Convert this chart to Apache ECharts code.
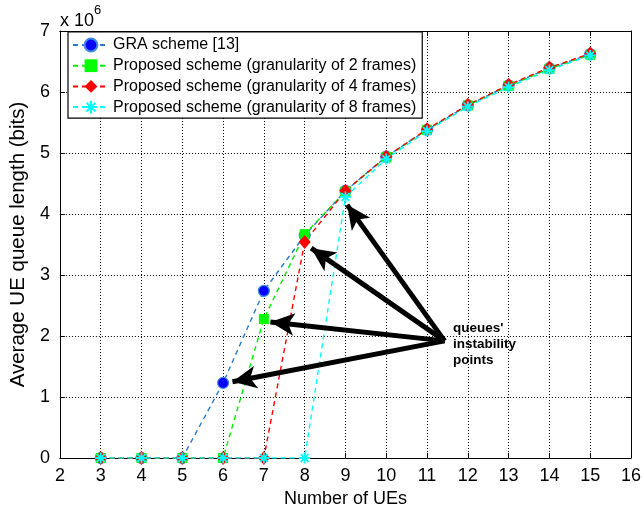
<!DOCTYPE html>
<html>
<head>
<meta charset="utf-8">
<script src="https://cdn.jsdelivr.net/npm/echarts@6/dist/echarts.min.js"></script>
<style>
html,body{margin:0;padding:0;background:#fff;}
#chart{width:644px;height:514px;}
</style>
</head>
<body>
<div id="chart"></div>
<script>
// ---- data (values in units of 10^6 bits) ----
var numUEs = [3, 4, 5, 6, 7, 8, 9, 10, 11, 12, 13, 14, 15];
var graScheme = [0, 0, 0, 1.23, 2.74, 3.65, 4.38, 4.94, 5.38, 5.78, 6.11, 6.39, 6.62];
var gran2 = [0, 0, 0, 0, 2.28, 3.67, 4.37, 4.93, 5.38, 5.78, 6.10, 6.38, 6.61];
var gran4 = [0, 0, 0, 0, 0, 3.54, 4.38, 4.94, 5.39, 5.79, 6.12, 6.40, 6.63];
var gran8 = [0, 0, 0, 0, 0, 0, 4.28, 4.90, 5.36, 5.76, 6.08, 6.36, 6.60];
var seriesNames = [
  'GRA scheme [13]',
  'Proposed scheme (granularity of 2 frames)',
  'Proposed scheme (granularity of 4 frames)',
  'Proposed scheme (granularity of 8 frames)'
];
var xTicks = [2, 16, 1];
var yTicks = [0, 7, 1];
// annotation arrows in data units
var arrowOrigin = [11.43, 1.92];
var arrowTips = [[9.04, 4.15], [8.16, 3.44], [7.16, 2.23], [6.23, 1.25]];
var annotationText = "queues'\ninstability\npoints";

function pairs(vals) { return numUEs.map(function (x, i) { return [x, vals[i]]; }); }

var FONT = 'Liberation Sans, Arial, Helvetica, sans-serif';
var asterisk = 'path://M0,-10L0,10M-10,0L10,0M-7,-7L7,7M-7,7L7,-7';

var chart = echarts.init(document.getElementById('chart'), null, {renderer: 'canvas'});

function mkSeries(name, vals, lineColor, symbol, size, fill, border, bw) {
  return {
    name: name,
    type: 'line',
    data: pairs(vals),
    symbol: symbol,
    symbolSize: size,
    showAllSymbol: true,
    lineStyle: {color: lineColor, width: 1.4, type: [5, 4]},
    itemStyle: {color: fill, borderColor: border, borderWidth: bw},
    emphasis: {disabled: true},
    animation: false,
    z: 3
  };
}

var series = [
  mkSeries(seriesNames[0], graScheme, '#2a7ccc', 'circle', 11, '#0000ff', '#3b8be0', 1.2),
  mkSeries(seriesNames[1], gran2, '#00ee00', 'rect', 10, '#00ff00', '#00ff00', 0),
  mkSeries(seriesNames[2], gran4, '#ff0000', 'diamond', [12, 14], '#ff0000', '#ff0000', 0),
  mkSeries(seriesNames[3], gran8, '#00ffff', asterisk, 11, '#00ffff', '#00ffff', 1.8)
];

series.push({
  name: 'arrows',
  type: 'line',
  data: [],
  silent: true,
  animation: false,
  markLine: {
    silent: true,
    animation: false,
    symbol: ['none', 'arrow'],
    symbolSize: [17, 24],
    label: {show: false},
    lineStyle: {color: '#000', width: 5, type: 'solid'},
    emphasis: {disabled: true},
    data: arrowTips.map(function (t) {
      return [{coord: arrowOrigin}, {coord: t}];
    })
  },
  z: 5
});

var option = {
  backgroundColor: '#fff',
  animation: false,
  textStyle: {fontFamily: FONT},
  grid: {left: 59, top: 31, right: 12, bottom: 56, show: false},
  legend: {
    data: seriesNames,
    orient: 'vertical',
    left: 68,
    top: 32,
    padding: [5, 6, 3, 4],
    itemWidth: 36,
    itemHeight: 16,
    itemGap: 4.7,
    backgroundColor: '#fff',
    borderColor: '#000',
    borderWidth: 1.2,
    borderRadius: 0,
    selectedMode: false,
    textStyle: {fontFamily: FONT, fontSize: 16, color: '#000', padding: [0, 0, 0, -1]}
  },
  xAxis: [{
    type: 'value',
    min: xTicks[0], max: xTicks[1], interval: xTicks[2],
    name: 'Number of UEs',
    nameLocation: 'middle',
    nameGap: 30,
    nameTextStyle: {fontFamily: FONT, fontSize: 18, color: '#000'},
    axisLine: {show: true, onZero: false, lineStyle: {color: '#000', width: 1}},
    axisTick: {show: true, inside: true, length: 5, lineStyle: {color: '#000'}},
    axisLabel: {fontFamily: FONT, fontSize: 18, color: '#000', margin: 9},
    splitLine: {show: true, lineStyle: {color: '#000', width: 1, type: [1, 2]}}
  }, {
    type: 'value', position: 'top',
    min: xTicks[0], max: xTicks[1], interval: xTicks[2],
    axisLine: {show: true, onZero: false, lineStyle: {color: '#000', width: 1}},
    axisTick: {show: true, inside: true, length: 5, lineStyle: {color: '#000'}},
    axisLabel: {show: false},
    splitLine: {show: false}
  }],
  yAxis: [{
    type: 'value',
    min: yTicks[0], max: yTicks[1], interval: yTicks[2],
    name: 'Average UE queue length (bits)',
    nameLocation: 'middle',
    nameGap: 29,
    nameTextStyle: {fontFamily: FONT, fontSize: 20.5, color: '#000'},
    axisLine: {show: true, onZero: false, lineStyle: {color: '#000', width: 1}},
    axisTick: {show: true, inside: true, length: 5, lineStyle: {color: '#000'}},
    axisLabel: {fontFamily: FONT, fontSize: 18, color: '#000', margin: 10},
    splitLine: {show: true, lineStyle: {color: '#000', width: 1, type: [1, 2]}}
  }, {
    type: 'value', position: 'right',
    min: yTicks[0], max: yTicks[1], interval: yTicks[2],
    axisLine: {show: true, onZero: false, lineStyle: {color: '#000', width: 1}},
    axisTick: {show: true, inside: true, length: 5, lineStyle: {color: '#000'}},
    axisLabel: {show: false},
    splitLine: {show: false}
  }],
  graphic: [{
    type: 'text',
    left: 60, top: 4,
    style: {
      text: '{a|x 10}{b|6}',
      rich: {
        a: {fontFamily: FONT, fontSize: 18, fill: '#000', padding: [8, 0, 0, 0]},
        b: {fontFamily: FONT, fontSize: 13, fill: '#000', verticalAlign: 'top', padding: [0, 0, 10, 0]}
      }
    }
  }, {
    type: 'text',
    left: 453, top: 320,
    style: {
      text: annotationText,
      fontFamily: FONT, fontSize: 13.5, fontWeight: 'bold', fill: '#000', lineHeight: 16
    },
    z: 10
  }],
  series: series
};

chart.setOption(option);
</script>
</body>
</html>
